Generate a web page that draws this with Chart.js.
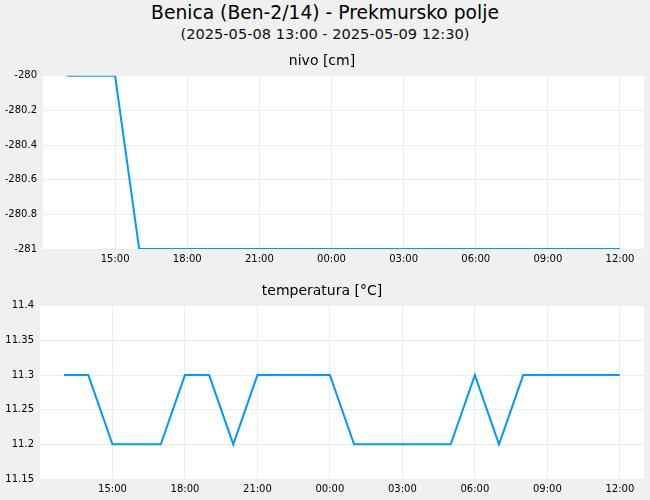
<!DOCTYPE html>
<html>
<head>
<meta charset="utf-8">
<script src="https://cdn.jsdelivr.net/npm/chart.js@4.4.1/dist/chart.umd.min.js"></script>
<style>
  body { margin: 0; background: #f0f0f0; font-family: "DejaVu Sans", sans-serif; }
  #wrap { position: relative; width: 650px; height: 500px; background: #f0f0f0; overflow: hidden; }
  .t { position: absolute; left: 0; width: 650px; text-align: center; color: #000; white-space: nowrap; }
  #title { top: 2px; font-size: 18.7px; }
  #subtitle { top: 25px; font-size: 14.6px; color: #111; }
  #c1box { position: absolute; left: 0; top: 45px; width: 650px; height: 225px; }
  #c2box { position: absolute; left: 0; top: 270px; width: 650px; height: 230px; }
</style>
</head>
<body>
<div id="wrap">
  <div class="t" id="title">Benica (Ben-2/14) - Prekmursko polje</div>
  <div class="t" id="subtitle">(2025-05-08 13:00 - 2025-05-09 12:30)</div>
  <div id="c1box"><canvas id="nivoChart"></canvas></div>
  <div id="c2box"><canvas id="tempChart"></canvas></div>
</div>
<script>
const times = ['13:00', '14:00', '15:00', '16:00', '17:00', '18:00', '19:00', '20:00', '21:00', '22:00', '23:00', '00:00',
               '01:00', '02:00', '03:00', '04:00', '05:00', '06:00', '07:00', '08:00', '09:00', '10:00', '11:00', '12:00'];
const nivo = [-280, -280, -280, -281, -281, -281, -281, -281, -281, -281, -281, -281,
              -281, -281, -281, -281, -281, -281, -281, -281, -281, -281, -281, -281];
const temperatura = [11.3, 11.3, 11.2, 11.2, 11.2, 11.3, 11.3, 11.2, 11.3, 11.3, 11.3, 11.3,
                     11.2, 11.2, 11.2, 11.2, 11.2, 11.3, 11.2, 11.3, 11.3, 11.3, 11.3, 11.3];
const xTicks = ['15:00', '18:00', '21:00', '00:00', '03:00', '06:00', '09:00', '12:00'];

// hours counted from 2025-05-08 00:00
function toHours(s) {
    const h = parseInt(s.split(':')[0]) + parseInt(s.split(':')[1]) / 60;
    return h < 13 ? h + 24 : h;
}

const plotBg = {
    id: 'plotBg',
    beforeDraw(chart) {
        const a = chart.chartArea;
        const ctx = chart.ctx;
        ctx.save();
        ctx.fillStyle = '#ffffff';
        ctx.fillRect(a.left, a.top, a.right - a.left, a.bottom - a.top);
        ctx.restore();
    }
};

function makeChart(id, title, values, yMin, yMax, yStep, yWidth, titlePad) {
    const ctx = document.getElementById(id).getContext('2d');
    return new Chart(ctx, {
        type: 'line',
        data: {
            datasets: [{
                data: times.map((t, i) => ({ x: toHours(t), y: values[i] })),
                borderColor: '#0099ff',
                borderWidth: 2,
                pointRadius: 0,
                tension: 0,
                fill: false
            }]
        },
        options: {
            responsive: true,
            maintainAspectRatio: false,
            animation: false,
            layout: { padding: { left: 0, right: 6, bottom: 1 } },
            plugins: {
                legend: { display: false },
                tooltip: { enabled: false },
                title: {
                    display: true,
                    text: title,
                    color: '#000',
                    font: { family: 'DejaVu Sans', size: 14, weight: 'normal' },
                    padding: titlePad
                }
            },
            scales: {
                x: {
                    type: 'linear',
                    min: 12,
                    max: 37,
                    afterBuildTicks(axis) {
                        axis.ticks = xTicks.map(t => ({ value: toHours(t) }));
                    },
                    ticks: {
                        color: '#000',
                        font: { family: 'DejaVu Sans', size: 10 },
                        padding: 4,
                        maxRotation: 0,
                        callback: (v) => xTicks.find(t => toHours(t) === v)
                    },
                    grid: { color: '#ececec', drawTicks: false },
                    border: { display: false }
                },
                y: {
                    min: yMin,
                    max: yMax,
                    afterFit(axis) { axis.width = yWidth; },
                    ticks: {
                        stepSize: yStep,
                        color: '#000',
                        font: { family: 'DejaVu Sans', size: 10 },
                        padding: 6,
                        callback: (v) => String(parseFloat(v.toFixed(2)))
                    },
                    grid: { color: '#ececec', drawTicks: false },
                    border: { display: false }
                }
            }
        },
        plugins: [plotBg]
    });
}

makeChart('nivoChart', 'nivo [cm]', nivo, -281, -280, 0.2, 43, { top: 8, bottom: 6 });
makeChart('tempChart', 'temperatura [°C]', temperatura, 11.15, 11.4, 0.05, 40, { top: 13, bottom: 6 });
</script>
</body>
</html>
